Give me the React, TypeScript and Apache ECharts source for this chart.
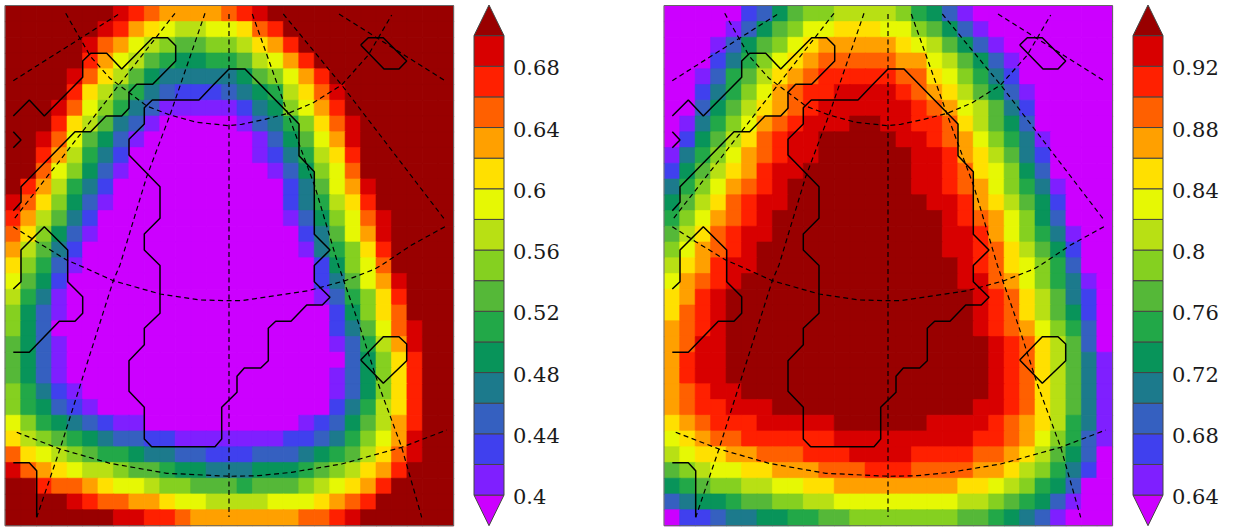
import React, { useEffect, useRef } from "react";
import * as echarts from "echarts";

// Bin index per cell (base-17 digit): 0 = below the lowest level, G = above the highest level.
const leftRows = [
  "GGGGGGGFEDCCCCDEFGGGGGGGGGGGG",
  "GGGGGGFECBA99AABDEGGGGGGGGGGG",
  "GGGGGFDCA9877889BCEGGGGGGGGGG",
  "GGGGGECA976556679ACEGGGGGGGGG",
  "GGGGFDB97544444578ACEGGGGGGGG",
  "GGGGEB9764322234569BDFGGGGGGG",
  "GGGFDA8643111112458ACEGGGGGGG",
  "GGGEB974310000013468BDFGGGGGG",
  "GGFDA753100000001357ACFGGGGGG",
  "GGEC96420000000012469BEGGGGGG",
  "GGDA85310000000001358ADGGGGGG",
  "GEC964200000000000247ACFGGGGG",
  "FDB8531000000000002469BEGGGGG",
  "EC97420000000000001358ADFGGGG",
  "DB85310000000000000247ACFGGGG",
  "C9742000000000000001468BEGGGG",
  "B8631000000000000000258ADGGGG",
  "A7520000000000000000247ACFGGG",
  "964100000000000000001368BEGGG",
  "853100000000000000000258BDGGG",
  "853000000000000000000247ADFGG",
  "7531000000000000000001369CFGG",
  "7531000000000000000000358BEGG",
  "7531000000000000000001358BEGG",
  "8642100000000000000001358BEGG",
  "8653210000000000000002469BEGG",
  "A865432110000000000123579CEGG",
  "B98765433221111111223468ACFGG",
  "DBA987665443322233345679BDFGG",
  "FDCBA998776554445556789BCEGGG",
  "GGEDDCBAA988777677789ABCEGGGG",
  "GGGGFEDDCCBAA9999AAABCDEGGGGG",
  "GGGGGGGFFEEDCCCCCCCDDEFGGGGGG",
];

const rightRows = [
  "00000235788999986531000000000",
  "000013578AABBBAA8753100000000",
  "00013578ABCCCCCBA975310000000",
  "0002468ABCDDDDDCCA97531000000",
  "0013679BCDEEEEEDDBA8642000000",
  "002468ACDEEFFFFEDCB9753100000",
  "003579BCDEFFFFFFEDCA974200000",
  "01468ACDEFFFGGFFEEDB975300000",
  "02579BDEFFGGGGGFFEDCA86410000",
  "1468ACDEFFGGGGGGFFECB97420000",
  "2579BCEFFGGGGGGGFFEDBA8530000",
  "468ACDEFGGGGGGGGFFEDCA8641000",
  "579BDEFFGGGGGGGGGFFECB9752000",
  "68ACDEFGGGGGGGGGGGFEDCA853000",
  "79BDEFFGGGGGGGGGGGFFECA864100",
  "8ACDEFGGGGGGGGGGGGFFEDB975200",
  "9BCEFFGGGGGGGGGGGGGFEDBA86300",
  "ACDEFGGGGGGGGGGGGGGFFDCA86410",
  "BCEFGGGGGGGGGGGGGGGGFEDB97420",
  "BDEFGGGGGGGGGGGGGGGGFEDB97520",
  "CDEFGGGGGGGGGGGGGGGGFEDCA8630",
  "CDFFGGGGGGGGGGGGGGGGGFEDB9730",
  "CEFFGGGGGGGGGGGGGGGGGFEDB9741",
  "CEFFGGGGGGGGGGGGGGGGGFEDB9741",
  "CDEFFGGGGGGGGGGGGGGGGFEDB9741",
  "CDEEFFFGGGGGGGGGGGGGFFEDB9741",
  "BCDEEEFFFFFGGGGGGFFFFEDCB9641",
  "ABCDDEEEEEEFFFFFFFFFEEDCA8631",
  "9ABBCCDDDEEEFFFFEEEEDDCB97530",
  "789AABBCCCDDDEEEDDDDCCB986420",
  "5678899AABBCCCCCCCCBBA9865300",
  "34556778899AAAAAAAA9987653100",
  "02234455667788888887765431000",
];

const palette = [
  "#cc00ff", "#7f1fff", "#4040ee", "#3560c0", "#1c7a8c", "#08945a", "#22a848", "#55b838", "#85d020",
  "#b8e014", "#e6f804", "#ffe000", "#ffa000", "#ff6000", "#ff2000", "#d80000", "#990000",
];
const leftTicks = [0.4, 0.44, 0.48, 0.52, 0.56, 0.6, 0.64, 0.68];
const rightTicks = [0.64, 0.68, 0.72, 0.76, 0.8, 0.84, 0.88, 0.92];
const leftBase = 0.4;
const rightBase = 0.64;
const levelStep = 0.02;

// Map overlay, in map units shared by both panels.
const coastA = [[13.3,116],[29.3,100],[44.3,116],[82.7,77.3],[82.7,61],[90.7,53.3],[106.7,53.3],[121.7,69],[152.7,37.7],[167.7,37.7],[175.7,45.7],[175.7,61],[152.7,84.3],[136.7,84.3],[129,92.3],[129,108.3],[121.7,116],[106,116],[90.7,131.7],[75,131.7],[21,186.7],[21,202.3],[13.3,210.7]];
const coastB = [[13.3,131.7],[21,140],[13.3,147.7]];
const coastC = [[229,69],[245,69],[299,124],[299,155.7],[314.3,171.7],[314.3,234.3],[330,250],[314.3,265.5],[314.3,281.7],[330,297.3],[322.3,305],[306.7,305],[291,321.3],[275.7,321.3],[268.3,328.3],[268.3,360.7],[260.7,368],[244.3,368],[237,376.3],[237,392.3],[221.7,407.3],[221.7,439],[215,446.7],[151.7,446.7],[144.3,439],[144.3,407.3],[129,391.3],[129,360.7],[144.3,344.7],[144.3,328.3],[160,313.3],[160,265.5],[144.3,250],[144.3,234],[160,218.3],[160,186.7],[129,155],[129,139.3],[144.3,124],[144.3,107.7],[152.3,100],[199,100],[213.3,85],[229,69]];
const coastD = [[13.3,289],[21,281.7],[21,250],[44.3,226.7],[67.7,250],[67.7,281.7],[82.7,296.7],[82.7,313.3],[75,321.3],[59.3,321.3],[29.3,352.3],[13.3,352.3]];
const coastE = [[13.3,462.7],[29.3,462.7],[36.7,470.7],[36.7,517.3]];
const islandF = [[360.7,45],[368.3,37.7],[383.3,37.7],[406.7,61],[399,69],[384,69],[360.7,45]];
const islandG = [[360.7,360],[383.3,336.7],[399,336.7],[406.7,344],[406.7,360.7],[383.3,383.3],[360.7,360]];
const coasts = [coastA, coastB, coastC, coastD, coastE, islandF, islandG];

const arc1 = [[65.7,13.3],[80,38.3],[90.7,56.7],[110,78.3],[130,93.3],[146.7,106],[170,115],[196.7,122.3],[229,125.7],[241.7,124.3],[265,119.3],[288.3,113.3],[313.3,102.7],[341.7,85],[368.3,55],[391.7,15]];
const arc2 = [[13.3,226.7],[36.7,241.7],[66.7,260],[80,265.7],[113.3,280.7],[160,294],[200,300],[230,300.7],[241.7,300.7],[275,295.7],[308.3,290.7],[345,280.7],[375,269],[381.7,265],[411.7,245],[445,226.7]];
const arc3 = [[16.7,432.3],[60,449],[110,463.3],[166.7,473.3],[230,476.3],[258.3,475.7],[291.7,472.3],[341.7,464],[401.7,447.3],[446.7,430]];
const arc4 = [[13.3,80.7],[120,13.3]];
const arc5 = [[339,14],[445,80.7]];
const meridian0 = [[229,14],[229,517]];
const meridian1 = [[175,13.3],[118,86],[13.3,220]];
const meridian2 = [[205,13.3],[170,115],[146.7,176.7],[120,265],[113.3,280.7],[60,449],[36.7,517.3]];
const meridian3 = [[252.3,14],[288.3,115],[315,186.7],[338.3,265],[360,327.3],[378.3,384],[401.7,447.3],[421.7,517.3]];
const meridian4 = [[283.3,14],[341.7,85],[445,220]];
const graticule = [arc1, arc2, arc3, arc4, arc5, meridian0, meridian1, meridian2, meridian3, meridian4];

const MAP_W = 448;
const MAP_H = 519.7;
const MAP_TOP = 6;
const BAR_TOP = 5;
const BAR_H = 520.7;
const BAR_W = 30;
const panels = [
  { rows: leftRows, base: leftBase, ticks: leftTicks, mapLeft: 5.5, barLeft: 474 },
  { rows: rightRows, base: rightBase, ticks: rightTicks, mapLeft: 664.5, barLeft: 1133 },
];

function buildOption() {
  const grid: any[] = [];
  const xAxis: any[] = [];
  const yAxis: any[] = [];
  const series: any[] = [];
  const visualMap: any[] = [];
  const graphic: any[] = [];
  const hiddenValue = (gridIndex: number, min: number, max: number, inverse = false) => ({
    type: "value", gridIndex, min, max, inverse, show: false,
  });

  panels.forEach((p) => {
    const nCols = p.rows[0].length;
    const cols = Array.from({ length: nCols }, (_, c) => String(c));
    const rowNames = p.rows.map((_, r) => String(r));
    const data: any[] = [];
    p.rows.forEach((row, r) => {
      row.split("").forEach((ch, c) => {
        const bin = parseInt(ch, 17);
        data.push({
          value: [c, r, +(p.base + (bin - 0.5) * levelStep).toFixed(3)],
          itemStyle: { borderColor: palette[bin], borderWidth: 0.6 },
        });
      });
    });

    const mapGrid = grid.length;
    grid.push({ left: p.mapLeft, top: MAP_TOP, width: MAP_W, height: MAP_H, containLabel: false });
    const catX = xAxis.length;
    xAxis.push({ type: "category", gridIndex: mapGrid, data: cols, show: false });
    const catY = yAxis.length;
    yAxis.push({ type: "category", gridIndex: mapGrid, data: rowNames, inverse: true, show: false });
    const valX = xAxis.length;
    xAxis.push(hiddenValue(mapGrid, 5.5, 453.5));
    const valY = yAxis.length;
    yAxis.push(hiddenValue(mapGrid, 6, 525.7, true));

    visualMap.push({
      type: "piecewise",
      show: false,
      seriesIndex: series.length,
      pieces: palette.map((color, k) => {
        const lo = p.base + (k - 1) * levelStep;
        const hi = p.base + k * levelStep;
        if (k === 0) return { lt: hi, color };
        if (k === palette.length - 1) return { gte: lo, color };
        return { gte: lo, lt: hi, color };
      }),
    });
    series.push({
      type: "heatmap",
      xAxisIndex: catX,
      yAxisIndex: catY,
      data,
      silent: true,
      emphasis: { disabled: true },
      progressive: 0,
    });

    graticule.forEach((line) =>
      series.push({
        type: "line", xAxisIndex: valX, yAxisIndex: valY, data: line, showSymbol: false, silent: true, z: 5,
        lineStyle: { color: "#000", width: 1.2, type: [5, 3.5] },
      })
    );
    coasts.forEach((line) =>
      series.push({
        type: "line", xAxisIndex: valX, yAxisIndex: valY, data: line, showSymbol: false, silent: true, z: 6,
        lineStyle: { color: "#000", width: 1.5 },
      })
    );

    graphic.push({
      type: "rect", z: 100, silent: true,
      shape: { x: p.mapLeft - 0.5, y: MAP_TOP - 0.5, width: MAP_W + 0.5, height: MAP_H + 0.5 },
      style: { fill: "none", stroke: "#666", lineWidth: 1 },
    });

    // Colour bar
    const barGrid = grid.length;
    grid.push({ left: p.barLeft, top: BAR_TOP, width: BAR_W, height: BAR_H, containLabel: false });
    const barX = xAxis.length;
    xAxis.push(hiddenValue(barGrid, 0, 1));
    const barY = yAxis.length;
    yAxis.push({
      type: "value",
      gridIndex: barGrid,
      position: "right",
      min: +(p.base - levelStep).toFixed(2),
      max: +(p.base + 16 * levelStep).toFixed(2),
      splitLine: { show: false },
      axisLine: { show: false },
      axisTick: { show: false },
      axisLabel: {
        customValues: p.ticks,
        margin: 9,
        fontFamily: "DejaVu Serif",
        fontSize: 21,
        color: "#1a1a1a",
        verticalAlign: "top",
        lineHeight: 4,
        formatter: (v: number) => String(+v.toFixed(2)),
      },
    });
    const barData = palette.map((_, k) => [
      +(p.base + (k - 1) * levelStep).toFixed(2),
      +(p.base + k * levelStep).toFixed(2),
      k,
    ]);
    series.push({
      type: "custom",
      xAxisIndex: barX,
      yAxisIndex: barY,
      data: barData,
      silent: true,
      clip: false,
      z: 3,
      encode: { y: [0, 1] },
      renderItem: (_: any, api: any) => {
        const lo = api.value(0);
        const hi = api.value(1);
        const k = api.value(2);
        const style = { fill: palette[k], stroke: "#444", lineWidth: 1 };
        if (k === 0) {
          return { type: "polygon", shape: { points: [api.coord([0, hi]), api.coord([1, hi]), api.coord([0.5, lo])] }, style };
        }
        if (k === palette.length - 1) {
          return { type: "polygon", shape: { points: [api.coord([0, lo]), api.coord([1, lo]), api.coord([0.5, hi])] }, style };
        }
        const a = api.coord([0, hi]);
        const b = api.coord([1, lo]);
        return { type: "rect", shape: { x: a[0], y: a[1], width: b[0] - a[0], height: b[1] - a[1] }, style };
      },
    });
  });

  return { animation: false, backgroundColor: "#fff", grid, xAxis, yAxis, visualMap, series, graphic };
}

export default function App() {
  const ref = useRef<HTMLDivElement>(null);
  useEffect(() => {
    document.body.style.margin = "0";
    const chart = echarts.init(ref.current!, undefined, { renderer: "svg" });
    chart.setOption(buildOption() as any);
    return () => chart.dispose();
  }, []);
  return <div ref={ref} style={{ width: 1236, height: 529 }} />;
}
